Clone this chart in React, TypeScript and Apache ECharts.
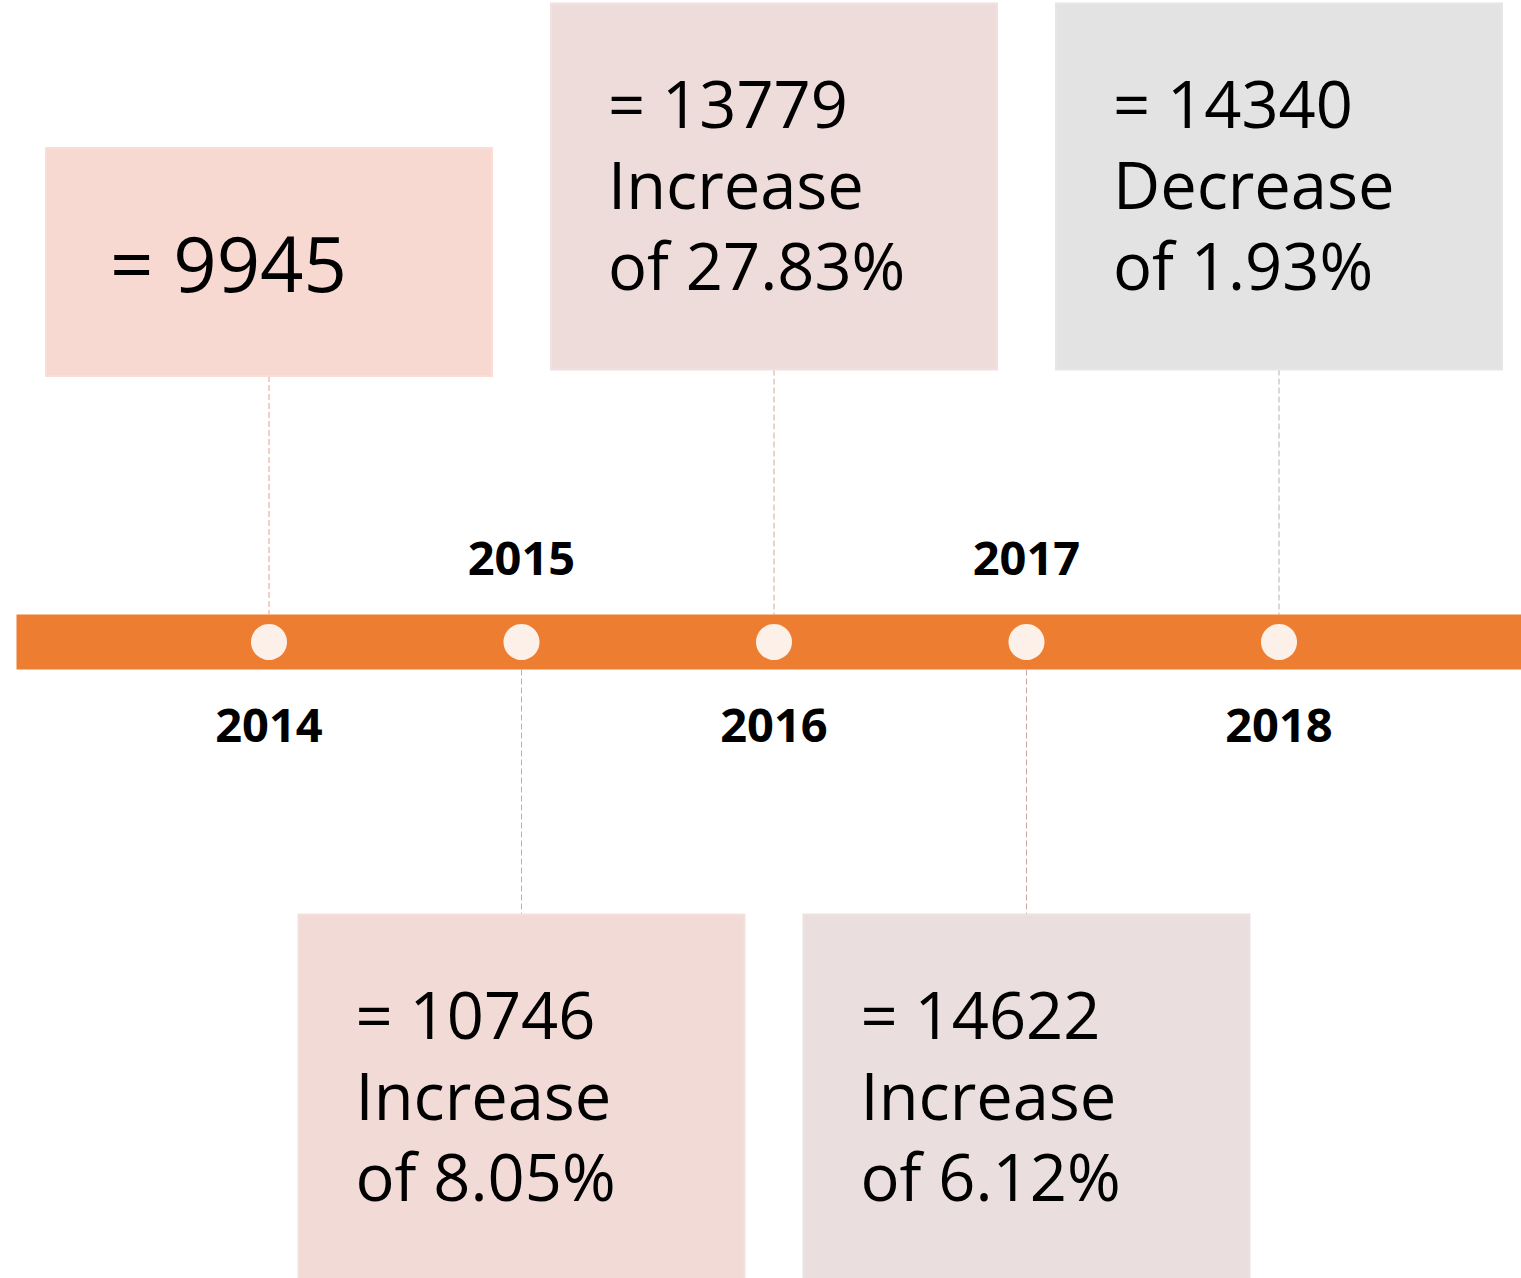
import React, { useEffect, useRef } from "react";
import * as echarts from "echarts";

// ---- data ----
const years = [2014, 2015, 2016, 2017, 2018];
const values = [9945, 10746, 13779, 14622, 14340];
const changeDirections = ["", "Increase", "Increase", "Increase", "Decrease"];
const changePercents: (number | null)[] = [null, 8.05, 27.83, 6.12, 1.93];
const sides = [1, -1, 1, -1, 1]; // 1 = callout above the timeline, -1 = below
const timelineRange = [2013, 2019];

// ---- styles ----
const boxFills = ["#F8D9D1", "#F2DBD6", "#EEDCDB", "#EADEDE", "#E3E3E3"];
const boxBorders = ["#F9DED6", "#F4DFDA", "#F0E0DF", "#ECE2E2", "#E6E6E6"];
const lineColors = ["#E2A284", "#DFA48C", "#DAA598", "#CCA6A6", "#B2B2B2"];
const BAR_COLOR = "#ED7D31";
const DOT_COLOR = "#FDF0E9";

function calloutText(i: number): string {
  const p = changePercents[i];
  if (p == null) return `= ${values[i]}`;
  return `= ${values[i]}\n${changeDirections[i]}\nof ${p.toFixed(2)}%`;
}

export default function App() {
  const ref = useRef<HTMLDivElement>(null);

  useEffect(() => {
    if (!ref.current) return;
    const chart = echarts.init(ref.current, undefined, { renderer: "svg" });
    const BAR_HALF = 27.5;

    const option: any = {
      animation: false,
      grid: { left: 16.5, width: 1515, top: 0, height: 1278 },
      xAxis: { type: "value", min: timelineRange[0], max: timelineRange[1], show: false },
      yAxis: { type: "value", min: -636, max: 642, show: false },
      series: [
        {
          type: "custom",
          name: "callouts",
          z: 1,
          data: years.map((y, i) => [y, sides[i]]),
          encode: { x: 0, y: 1 },
          renderItem: (params: any, api: any) => {
            const i = params.dataIndex;
            const year = api.value(0);
            const side = api.value(1);
            const [cx, cy] = api.coord([year, 0]);
            const multi = changePercents[i] != null;
            const boxW = 446;
            const boxH = multi ? 366 : 228;
            const gap = multi ? 272.5 : 266;
            const boxX = cx - boxW / 2;
            const boxY = side > 0 ? cy - gap - boxH : cy + gap;
            return {
              type: "group",
              children: [
                {
                  type: "line",
                  shape: {
                    x1: cx,
                    y1: side > 0 ? cy - gap : cy + BAR_HALF,
                    x2: cx,
                    y2: side > 0 ? cy - BAR_HALF : cy + gap,
                  },
                  style: { stroke: lineColors[i], lineWidth: 1, lineDash: [6, 3] },
                },
                {
                  type: "rect",
                  shape: { x: boxX, y: boxY, width: boxW, height: boxH },
                  style: { fill: boxFills[i], stroke: boxBorders[i], lineWidth: 2 },
                },
                {
                  type: "text",
                  style: {
                    text: calloutText(i),
                    x: boxX + (multi ? 57 : 64),
                    y: boxY + boxH / 2 - (multi ? 3 : 0),
                    fontFamily: "Open Sans",
                    fontSize: multi ? 65 : 76,
                    lineHeight: multi ? 81 : 90,
                    fill: "#000000",
                    align: "left",
                    verticalAlign: "middle",
                  },
                },
                {
                  type: "text",
                  style: {
                    text: String(years[i]),
                    x: cx,
                    y: side > 0 ? cy + 82 : cy - 85,
                    fontFamily: "Open Sans",
                    fontWeight: "bold",
                    fontSize: 47,
                    fill: "#000000",
                    align: "center",
                    verticalAlign: "middle",
                  },
                },
              ],
            };
          },
        },
        {
          type: "custom",
          name: "timeline",
          z: 2,
          data: [[timelineRange[0], timelineRange[1], 0]],
          encode: { x: [0, 1], y: 2 },
          renderItem: (params: any, api: any) => {
            const s = api.coord([api.value(0), api.value(2)]);
            const e = api.coord([api.value(1), api.value(2)]);
            return {
              type: "rect",
              shape: { x: s[0], y: s[1] - BAR_HALF, width: e[0] - s[0], height: BAR_HALF * 2 },
              style: { fill: BAR_COLOR },
            };
          },
        },
        {
          type: "scatter",
          name: "years",
          z: 3,
          data: years.map((y) => [y, 0]),
          symbol: "circle",
          symbolSize: 36,
          itemStyle: { color: DOT_COLOR, opacity: 1 },
          emphasis: { disabled: true },
        },
      ],
    };

    chart.setOption(option);
    return () => chart.dispose();
  }, []);

  return (
    <div
      style={{
        position: "fixed",
        left: 0,
        top: 0,
        width: 1521,
        height: 1278,
        overflow: "hidden",
        background: "#ffffff",
      }}
    >
      <div ref={ref} style={{ width: 1545, height: 1278 }} />
    </div>
  );
}
